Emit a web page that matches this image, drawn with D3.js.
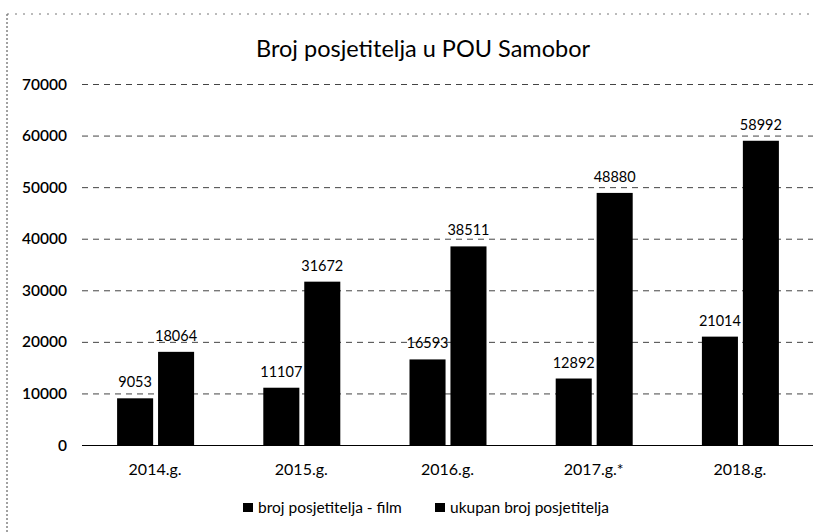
<!DOCTYPE html>
<html>
<head>
<meta charset="utf-8">
<script src="https://cdn.jsdelivr.net/npm/d3@7"></script>
<style>
	body { margin: 0; background: #fff; }
	text { font-family: Lato, 'Open Sans', sans-serif; fill: #000; }
</style>
</head>
<body>
<svg id="chart" width="830" height="532"></svg>
<script>
const years = ['2014.g.', '2015.g.', '2016.g.', '2017.g.*', '2018.g.'];
const filmVisitors = [9053, 11107, 16593, 12892, 21014];
const totalVisitors = [18064, 31672, 38511, 48880, 58992];
const seriesNames = ['broj posjetitelja - film', 'ukupan broj posjetitelja'];
const yTicks = [0, 10000, 20000, 30000, 40000, 50000, 60000, 70000];

const svg = d3.select('#chart');

const //
	plotLeft = 82,
	plotRight = 813,
	plotTop = 84,
	plotBottom = 445;

const x = d3.scaleBand().domain(years).range([plotLeft, plotRight]);
const y = d3.scaleLinear().domain([0, 70000]).range([plotBottom, plotTop]);
const inner = d3.scaleBand().domain([0, 1]).range([-38, 39]).paddingInner(0.12);

// scanned frame bits
svg.append('line')
	.attr('x1', 7).attr('x2', 7).attr('y1', 14).attr('y2', 532)
	.attr('stroke', '#444').attr('stroke-width', 1).attr('stroke-dasharray', '2,2');
svg.append('line')
	.attr('x1', 7).attr('x2', 815).attr('y1', 14).attr('y2', 14)
	.attr('stroke', '#777').attr('stroke-width', 1).attr('stroke-dasharray', '2,6');

// title
svg.append('text')
	.attr('x', 423).attr('y', 57)
	.attr('text-anchor', 'middle')
	.style('font-size', '23.5px')
	.text('Broj posjetitelja u POU Samobor');

// grid lines + y labels
svg.append('g').selectAll('line')
	.data(yTicks.filter(d => d > 0))
	.join('line')
	.attr('x1', plotLeft).attr('x2', plotRight)
	.attr('y1', d => y(d) + 0.5).attr('y2', d => y(d) + 0.5)
	.attr('stroke', '#444').attr('stroke-width', 1)
	.attr('stroke-dasharray', '6,5');

svg.append('line')
	.attr('x1', plotLeft).attr('x2', plotRight)
	.attr('y1', y(0) + 0.5).attr('y2', y(0) + 0.5)
	.attr('stroke', '#000').attr('stroke-width', 1.2);

svg.append('g').selectAll('text')
	.data(yTicks)
	.join('text')
	.attr('x', 67).attr('y', d => y(d) + 5.5)
	.attr('text-anchor', 'end')
	.style('font-size', '15.5px')
	.style('font-weight', 600)
	.text(d => d);

// x labels
svg.append('g').selectAll('text')
	.data(years)
	.join('text')
	.attr('x', d => x(d) + x.bandwidth() / 2)
	.attr('y', 475)
	.attr('text-anchor', 'middle')
	.style('font-size', '16px')
	.text(d => d);

// bars
const series = [filmVisitors, totalVisitors];
series.forEach((vals, s) => {
	const g = svg.append('g');
	g.selectAll('rect')
		.data(years)
		.join('rect')
		.attr('x', (d, i) => x(d) + x.bandwidth() / 2 + inner(s))
		.attr('y', (d, i) => y(vals[i]))
		.attr('width', inner.bandwidth())
		.attr('height', (d, i) => y(0) - y(vals[i]))
		.attr('fill', '#000');
	g.selectAll('text')
		.data(years)
		.join('text')
		.attr('x', (d, i) => x(d) + x.bandwidth() / 2 + inner(s) + inner.bandwidth() / 2)
		.attr('y', (d, i) => y(vals[i]) - 11)
		.attr('text-anchor', 'middle')
		.style('font-size', '14.5px')
		.text((d, i) => vals[i]);
});

// legend
const legendX = [243, 435];
seriesNames.forEach((name, i) => {
	svg.append('rect')
		.attr('x', legendX[i]).attr('y', 503)
		.attr('width', 10).attr('height', 9)
		.attr('fill', '#000');
	svg.append('text')
		.attr('x', legendX[i] + 15).attr('y', 513)
		.style('font-size', '15.5px')
		.text(name);
});
</script>
</body>
</html>
